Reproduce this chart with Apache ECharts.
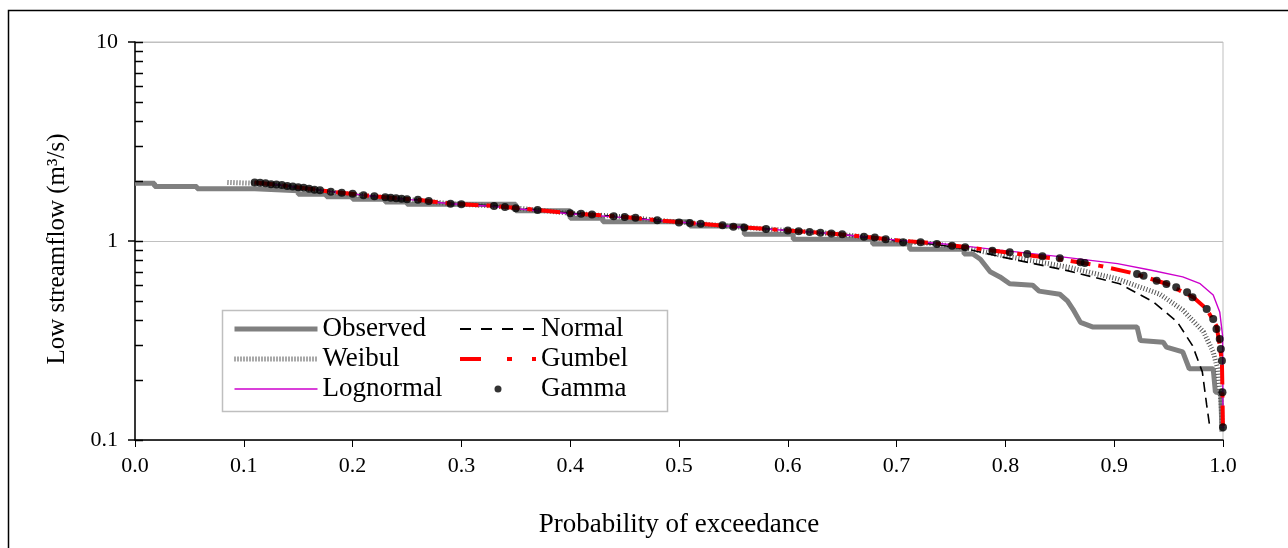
<!DOCTYPE html>
<html><head><meta charset="utf-8">
<script src="https://cdn.jsdelivr.net/npm/echarts@6/dist/echarts.min.js"></script>
<style>html,body{margin:0;padding:0;background:#fff}#c{width:1288px;height:548px}</style>
</head><body><div id="c"></div>
<script>
// ---------- data ----------
const xTickValues = [0,0.1,0.2,0.3,0.4,0.5,0.6,0.7,0.8,0.9,1.0];
const yMajorTicks = [0.1, 1, 10];
const yMinorTicks = [0.2,0.3,0.4,0.5,0.6,0.7,0.8,0.9,2,3,4,5,6,7,8,9];

const observed = [[0,1.95],[0.018,1.95],[0.018,1.88],[0.057,1.88],[0.057,1.83],[0.11,1.83],[0.11,1.79],[0.15,1.79],[0.15,1.72],[0.176,1.72],[0.176,1.67],[0.20,1.67],[0.20,1.62],[0.23,1.62],[0.23,1.57],[0.25,1.57],[0.25,1.53],[0.35,1.53],[0.35,1.42],[0.40,1.42],[0.40,1.30],[0.43,1.30],[0.43,1.25],[0.51,1.25],[0.51,1.19],[0.56,1.19],[0.56,1.08],[0.605,1.08],[0.605,1.02],[0.678,1.02],[0.678,0.965],[0.712,0.965],[0.712,0.91],[0.762,0.91],[0.762,0.86],[0.77,0.86],[0.777,0.81],[0.786,0.70],[0.795,0.66],[0.804,0.61],[0.825,0.60],[0.831,0.56],[0.85,0.54],[0.857,0.50],[0.862,0.455],[0.869,0.39],[0.88,0.37],[0.921,0.37],[0.924,0.316],[0.945,0.31],[0.948,0.293],[0.963,0.277],[0.969,0.228],[0.991,0.228],[0.993,0.174],[0.998,0.172],[0.999,0.11]];

const weibull = [[0.085,1.97],[0.11,1.95],[0.13,1.91],[0.15,1.85],[0.18,1.76],[0.21,1.69],[0.23,1.65],[0.26,1.60],[0.29,1.54],[0.33,1.50],[0.37,1.43],[0.40,1.38],[0.45,1.32],[0.48,1.27],[0.52,1.22],[0.56,1.17],[0.60,1.13],[0.64,1.09],[0.67,1.05],[0.70,1.00],[0.737,0.965],[0.765,0.92],[0.795,0.85],[0.857,0.74],[0.903,0.645],[0.942,0.54],[0.963,0.45],[0.982,0.35],[0.991,0.277],[0.995,0.228],[0.998,0.16],[0.9995,0.115]];

const normal = [[0.11,1.97],[0.13,1.92],[0.15,1.86],[0.18,1.77],[0.21,1.70],[0.23,1.66],[0.26,1.61],[0.29,1.54],[0.33,1.50],[0.37,1.43],[0.40,1.38],[0.45,1.32],[0.48,1.27],[0.52,1.22],[0.56,1.17],[0.60,1.13],[0.64,1.09],[0.67,1.05],[0.70,1.00],[0.737,0.96],[0.765,0.91],[0.795,0.835],[0.857,0.71],[0.905,0.61],[0.936,0.494],[0.958,0.392],[0.972,0.298],[0.981,0.22],[0.985,0.15],[0.988,0.115]];

const lognormal = [[0.11,1.97],[0.13,1.92],[0.15,1.86],[0.18,1.77],[0.21,1.70],[0.23,1.66],[0.26,1.60],[0.29,1.54],[0.33,1.49],[0.37,1.42],[0.40,1.37],[0.45,1.31],[0.48,1.27],[0.52,1.22],[0.56,1.17],[0.60,1.13],[0.64,1.09],[0.67,1.05],[0.70,1.01],[0.737,0.975],[0.765,0.94],[0.795,0.90],[0.85,0.835],[0.903,0.77],[0.933,0.715],[0.963,0.66],[0.979,0.61],[0.991,0.535],[0.997,0.44],[0.9996,0.335],[1.0,0.115]];

const gumbel = [[0.11,1.97],[0.13,1.92],[0.15,1.86],[0.18,1.77],[0.21,1.70],[0.23,1.66],[0.26,1.61],[0.29,1.54],[0.33,1.50],[0.37,1.43],[0.40,1.38],[0.45,1.32],[0.48,1.27],[0.52,1.22],[0.56,1.17],[0.60,1.13],[0.64,1.09],[0.67,1.05],[0.70,1.01],[0.737,0.97],[0.765,0.93],[0.795,0.885],[0.85,0.81],[0.887,0.75],[0.917,0.69],[0.948,0.61],[0.973,0.52],[0.985,0.455],[0.994,0.375],[0.997,0.30],[0.999,0.246],[0.9995,0.174],[1.0,0.11]];

const gamma = [[0.11,1.97],[0.115,1.96],[0.12,1.95],[0.125,1.93],[0.13,1.92],[0.135,1.91],[0.14,1.89],[0.145,1.88],[0.15,1.86],[0.155,1.85],[0.16,1.83],[0.165,1.81],[0.17,1.80],[0.18,1.77],[0.19,1.75],[0.20,1.73],[0.21,1.70],[0.22,1.68],[0.23,1.66],[0.235,1.65],[0.24,1.64],[0.245,1.63],[0.25,1.62],[0.26,1.61],[0.27,1.59],[0.29,1.54],[0.30,1.53],[0.33,1.50],[0.34,1.48],[0.35,1.46],[0.37,1.43],[0.40,1.38],[0.41,1.37],[0.42,1.36],[0.44,1.33],[0.45,1.32],[0.46,1.31],[0.48,1.27],[0.50,1.24],[0.51,1.23],[0.52,1.22],[0.54,1.20],[0.55,1.18],[0.56,1.17],[0.58,1.15],[0.60,1.13],[0.61,1.12],[0.62,1.11],[0.63,1.10],[0.64,1.09],[0.65,1.08],[0.67,1.05],[0.68,1.04],[0.69,1.02],[0.706,0.985],[0.722,0.985],[0.737,0.966],[0.751,0.947],[0.763,0.93],[0.788,0.894],[0.804,0.877],[0.82,0.86],[0.834,0.838],[0.85,0.818],[0.869,0.782],[0.873,0.775],[0.921,0.683],[0.927,0.669],[0.939,0.632],[0.948,0.608],[0.957,0.585],[0.967,0.552],[0.972,0.521],[0.985,0.455],[0.991,0.406],[0.994,0.361],[0.997,0.322],[0.998,0.287],[0.999,0.25],[0.9995,0.174],[1.0,0.116]];

// ---------- chart ----------
const FONT = 'Liberation Serif';
const chart = echarts.init(document.getElementById('c'), null, {renderer: 'canvas'});
function lineSeries(name, data, color, width, type, z) {
  return {name, type: 'line', data, symbol: 'none', showSymbol: false, z,
    lineStyle: {color, width, type}, itemStyle: {color}, emphasis: {disabled: true}, animation: false};
}
const textBase = {fontFamily: FONT, color: '#000'};
const hideSym = {opacity: 0};
const legendText = Object.assign({fontSize: 27, lineHeight: 30}, textBase);
chart.setOption({
  animation: false,
  grid: {left: 135, right: 65, top: 42, bottom: 108, show: true, borderColor: '#bfbfbf', borderWidth: 1},
  xAxis: {
    type: 'value', min: 0, max: 1, interval: 0.1,
    axisLine: {onZero: false, lineStyle: {color: '#000', width: 1.5}},
    axisTick: {length: 7, lineStyle: {color: '#000', width: 1}},
    splitLine: {show: false},
    axisLabel: Object.assign({formatter: v => v.toFixed(1), fontSize: 22, margin: 15}, textBase),
    name: 'Probability of exceedance', nameLocation: 'middle', nameGap: 71,
    nameTextStyle: Object.assign({fontSize: 27}, textBase)
  },
  yAxis: {
    type: 'log', logBase: 10, min: 0.1, max: 10,
    axisLine: {lineStyle: {color: '#000', width: 1.5}},
    axisTick: {length: 7, lineStyle: {color: '#000', width: 1.5}},
    splitLine: {show: true, lineStyle: {color: '#c0c0c0', width: 1}},
    axisLabel: Object.assign({fontSize: 22, margin: 17}, textBase),
    name: 'Low streamflow (m³/s)', nameLocation: 'middle', nameGap: 65,
    nameTextStyle: Object.assign({fontSize: 25, padding: [0, 16, 0, 0]}, textBase)
  },
  legend: [
    {data: [{name: 'Observed', itemStyle: hideSym}, {name: 'Weibul', itemStyle: hideSym}, {name: 'Lognormal', itemStyle: hideSym}],
     orient: 'vertical', left: 232, top: 314, padding: 0,
     itemWidth: 83, itemHeight: 6, itemGap: 0, selectedMode: false,
     lineStyle: {width: 'inherit'}, textStyle: legendText},
    {data: [{name: 'Normal', itemStyle: hideSym, lineStyle: {type: [11, 10], width: 2}}, {name: 'Gumbel', itemStyle: hideSym, lineStyle: {type: [21, 26, 5, 20], width: 4}}, {name: 'Gamma', icon: 'circle'}],
     orient: 'vertical', left: 458, top: 314, padding: 0,
     itemWidth: 76, itemHeight: 7, itemGap: 0, selectedMode: false,
     lineStyle: {width: 'inherit'}, textStyle: legendText}
  ],
  series: [
    lineSeries('Observed', observed, '#808080', 5, 'solid', 2),
    lineSeries('Weibul', weibull, '#555555', 5, [1, 2], 3),
    lineSeries('Normal', normal, '#000000', 1.6, [10, 6], 4),
    lineSeries('Lognormal', lognormal, '#cc00cc', 1.4, 'solid', 5),
    lineSeries('Gumbel', gumbel, '#ff0000', 4, [20, 8, 5, 8], 6),
    {name: 'Gamma', type: 'scatter', data: gamma, symbol: 'circle', symbolSize: 8, z: 7,
     itemStyle: {color: '#000'}, emphasis: {disabled: true}, animation: false}
  ]
});

// minor/inside ticks on the log axis and frames
const gx = chart.convertToPixel({xAxisIndex: 0}, 0);
const graphics = [];
yMinorTicks.concat(yMajorTicks).forEach(v => {
  const py = Math.round(chart.convertToPixel({yAxisIndex: 0}, v)) + 0.5;
  graphics.push({type: 'line', silent: true, z: 10,
    shape: {x1: gx, y1: py, x2: gx + 8, y2: py},
    style: {stroke: '#000', lineWidth: 1.5}});
});
graphics.push({type: 'rect', silent: true, z: 3,
  shape: {x: 222.5, y: 310.5, width: 445, height: 101},
  style: {fill: '#fff', stroke: '#bfbfbf', lineWidth: 1.5}});
graphics.push({type: 'rect', silent: true, z: 0,
  shape: {x: 8.5, y: 10.5, width: 1300, height: 560},
  style: {fill: 'none', stroke: '#000', lineWidth: 1.5}});
chart.setOption({graphic: graphics});
</script>
</body></html>
